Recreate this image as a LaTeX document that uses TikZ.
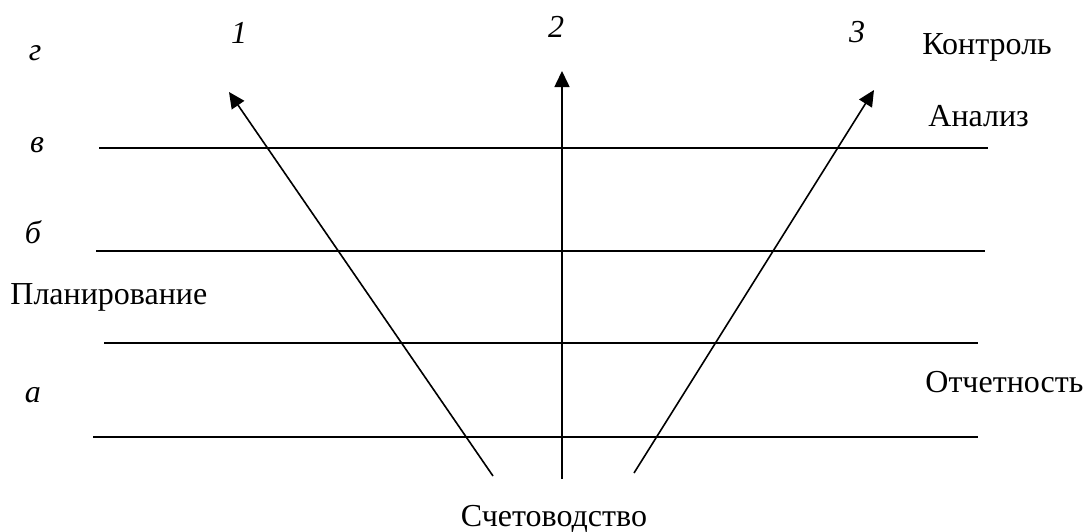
\documentclass[tikz,border=0pt]{standalone}
\usepackage{fontspec}
\setmainfont{Liberation Serif}
\usetikzlibrary{arrows.meta}

\begin{document}
\begin{tikzpicture}[x=0.5pt,y=-0.5pt,
 >={Triangle[length=8pt,width=7.5pt]},
 lbl/.style={font=\fontsize{16}{18}\selectfont,inner sep=0pt},
 idx/.style={font=\fontsize{16}{18}\selectfont\itshape,inner sep=0pt},
 level/.style={line width=0.9pt},
 flow/.style={->,line width=0.8pt}]
\useasboundingbox (0,0) rectangle (1083,531);
% horizontal levels
\coordinate (l1a) at (99,148);  \coordinate (l1b) at (988,148);
\coordinate (l2a) at (96,251);  \coordinate (l2b) at (985,251);
\coordinate (l3a) at (104,343); \coordinate (l3b) at (978,343);
\coordinate (l4a) at (93,437);  \coordinate (l4b) at (978,437);
\draw[level] (l1a) -- (l1b);
\draw[level] (l2a) -- (l2b);
\draw[level] (l3a) -- (l3b);
\draw[level] (l4a) -- (l4b);
% level letters
\node[idx] (lg) at (35,53) {г};
\node[idx] (lv) at (37,145) {в};
\node[idx] (lb) at (33,232) {б};
\node[idx] (la) at (33,395) {а};
% arrow numbers
\node[idx] (n1) at (239,33) {1};
\node[idx] (n2) at (556,27) {2};
\node[idx] (n3) at (857,32) {3};
% functions
\node[lbl,anchor=west] (kontrol) at (922,47) {Контроль};
\node[lbl,anchor=west] (analiz) at (928,116) {Анализ};
\node[lbl,anchor=west] (plan) at (10,297) {Планирование};
\node[lbl,anchor=west] (otchet) at (925,382) {Отчетность};
\node[lbl,anchor=base] (schet) at (554,526) {Счетоводство};
% arrows
\coordinate (s1) at (493,476); \coordinate (t1) at (229,92);
\coordinate (s2) at (562,479); \coordinate (t2) at (562,71);
\coordinate (s3) at (634,473); \coordinate (t3) at (874,90);
\draw[flow] (s1) -- (t1);
\draw[flow] (s2) -- (t2);
\draw[flow] (s3) -- (t3);
\end{tikzpicture}
\end{document}
